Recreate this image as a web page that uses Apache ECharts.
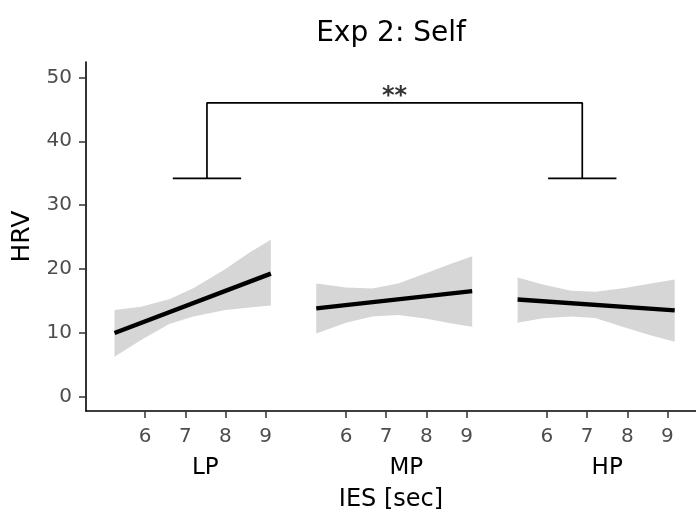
<!DOCTYPE html>
<html>
<head>
<meta charset="utf-8">
<script src="https://cdn.jsdelivr.net/npm/echarts@6/dist/echarts.min.js"></script>
<style>html,body{margin:0;padding:0;background:#fff}#c{width:696px;height:520px}</style>
</head>
<body>
<div id="c"></div>
<script>
// ---------- data (IES in seconds, HRV values) ----------
const categories = ['LP', 'MP', 'HP'];
const xTickValues = [6, 7, 8, 9];
const yTickValues = [0, 10, 20, 30, 40, 50];

// fitted regression lines (endpoints)
const lpLineX = [5.24, 9.13];
const lpLineY = [10.0, 19.3];
const mpLineX = [5.26, 9.14];
const mpLineY = [13.85, 16.55];
const hpLineX = [5.27, 9.18];
const hpLineY = [15.25, 13.55];

// confidence bands
const lpBandX = [5.24, 5.9, 6.6, 7.2, 8.0, 8.6, 9.13];
const lpBandUpper = [13.6, 14.1, 15.3, 17.0, 20.0, 22.6, 24.6];
const lpBandLower = [6.3, 8.9, 11.4, 12.6, 13.6, 14.0, 14.3];
const mpBandX = [5.26, 6.0, 6.65, 7.3, 7.97, 8.63, 9.14];
const mpBandUpper = [17.76, 17.14, 16.98, 17.76, 19.33, 20.89, 22.0];
const mpBandLower = [9.94, 11.6, 12.6, 12.8, 12.28, 11.5, 10.97];
const hpBandX = [5.27, 5.9, 6.6, 7.2, 7.9, 8.55, 9.18];
const hpBandUpper = [18.7, 17.6, 16.6, 16.45, 17.0, 17.7, 18.39];
const hpBandLower = [11.6, 12.3, 12.6, 12.35, 10.95, 9.7, 8.62];

// significance annotation
const sigLabel = '**';
const sigLeft = { group: 'LP', x: 7.54 };
const sigRight = { group: 'HP', x: 6.88 };
const sigTopY = 46.0;
const sigFootY = 34.2;
const sigFootHalf = 0.85;

// ---------- layout helpers ----------
const GROUP_GAP = 5; // IES units between consecutive panels on the shared axis
const gIdx = name => categories.indexOf(name);
const toU = (group, x) => x + gIdx(group) * GROUP_GAP;

const groups = [
  { name: 'LP', lx: lpLineX, ly: lpLineY, bx: lpBandX, bu: lpBandUpper, bl: lpBandLower },
  { name: 'MP', lx: mpLineX, ly: mpLineY, bx: mpBandX, bu: mpBandUpper, bl: mpBandLower },
  { name: 'HP', lx: hpLineX, ly: hpLineY, bx: hpBandX, bu: hpBandUpper, bl: hpBandLower }
];

const tickU = [];
const tickLabel = {};
categories.forEach(c => xTickValues.forEach(t => { const u = toU(c, t); tickU.push(u); tickLabel[u] = String(t); }));
const midTick = (xTickValues[0] + xTickValues[xTickValues.length - 1]) / 2;
const groupU = [];
const groupLabel = {};
categories.forEach(c => { const u = toU(c, midTick); groupU.push(u); groupLabel[u] = c; });

const series = [];
groups.forEach(g => {
  const pts = [];
  g.bx.forEach((x, i) => pts.push([toU(g.name, x), g.bu[i]]));
  for (let i = g.bx.length - 1; i >= 0; i--) pts.push([toU(g.name, g.bx[i]), g.bl[i]]);
  series.push({
    type: 'custom',
    silent: true,
    z: 1,
    data: [0],
    renderItem: function (params, api) {
      return {
        type: 'polygon',
        shape: { points: pts.map(p => api.coord(p)), smooth: 0 },
        style: { fill: '#d6d6d6' }
      };
    }
  });
});
groups.forEach(g => {
  series.push({
    type: 'line',
    z: 3,
    symbol: 'none',
    silent: true,
    data: g.lx.map((x, i) => [toU(g.name, x), g.ly[i]]),
    lineStyle: { color: '#000', width: 4.4, cap: 'butt' }
  });
});
// significance bracket
const lU = toU(sigLeft.group, sigLeft.x);
const rU = toU(sigRight.group, sigRight.x);
const bracketStyle = { color: '#000', width: 1.7 };
[
  [[lU - sigFootHalf, sigFootY], [lU + sigFootHalf, sigFootY]],
  [[lU, sigFootY], [lU, sigTopY], [rU, sigTopY], [rU, sigFootY]],
  [[rU - sigFootHalf, sigFootY], [rU + sigFootHalf, sigFootY]]
].forEach(d => series.push({ type: 'line', symbol: 'none', silent: true, data: d, lineStyle: bracketStyle, z: 2 }));

const FONT = 'DejaVu Sans';
series.push({
  type: 'scatter',
  symbolSize: 0,
  silent: true,
  data: [[(lU + rU) / 2, sigTopY]],
  label: { show: true, position: 'top', distance: -6, formatter: sigLabel, color: '#000', fontSize: 24, fontWeight: 'bold', fontFamily: FONT }
});

const chart = echarts.init(document.getElementById('c'), null, { renderer: 'canvas' });
chart.setOption({
  animation: false,
  backgroundColor: '#fff',
  title: {
    text: 'Exp 2: Self',
    left: 386,
    textAlign: 'center',
    top: 15,
    textStyle: { fontSize: 28, fontWeight: 'normal', color: '#000', fontFamily: FONT }
  },
  grid: { left: 86, right: 0, top: 62, bottom: 109, containLabel: false },
  xAxis: [
    {
      type: 'value', min: 4.53, max: 19.71,
      axisLine: { show: true, onZero: false, lineStyle: { color: '#000', width: 1.6 } },
      axisTick: { show: true, customValues: tickU, length: 7, lineStyle: { color: '#333', width: 1.5 } },
      axisLabel: { customValues: tickU, formatter: v => tickLabel[Math.round(v)] || '', color: '#4d4d4d', fontSize: 20, margin: 16, fontFamily: FONT },
      splitLine: { show: false },
      name: 'IES [sec]', nameLocation: 'middle', nameGap: 77,
      nameTextStyle: { fontSize: 24, color: '#000', fontFamily: FONT }
    },
    {
      type: 'value', min: 4.53, max: 19.71, position: 'bottom',
      axisLine: { show: false }, axisTick: { show: false }, splitLine: { show: false },
      axisLabel: { customValues: groupU, formatter: v => groupLabel[v] || '', color: '#000', fontSize: 23, margin: 46, fontFamily: FONT }
    }
  ],
  yAxis: {
    type: 'value', min: -2.2, max: 52.4,
    axisLine: { show: true, onZero: false, lineStyle: { color: '#000', width: 1.6 } },
    axisTick: { show: true, customValues: yTickValues, length: 7, lineStyle: { color: '#333', width: 1.5 } },
    axisLabel: { customValues: yTickValues, color: '#4d4d4d', fontSize: 20, margin: 14, fontFamily: FONT },
    splitLine: { show: false },
    name: 'HRV', nameLocation: 'middle', nameGap: 51,
    nameTextStyle: { fontSize: 25, color: '#000', fontFamily: FONT }
  },
  series: series
});
</script>
</body>
</html>
